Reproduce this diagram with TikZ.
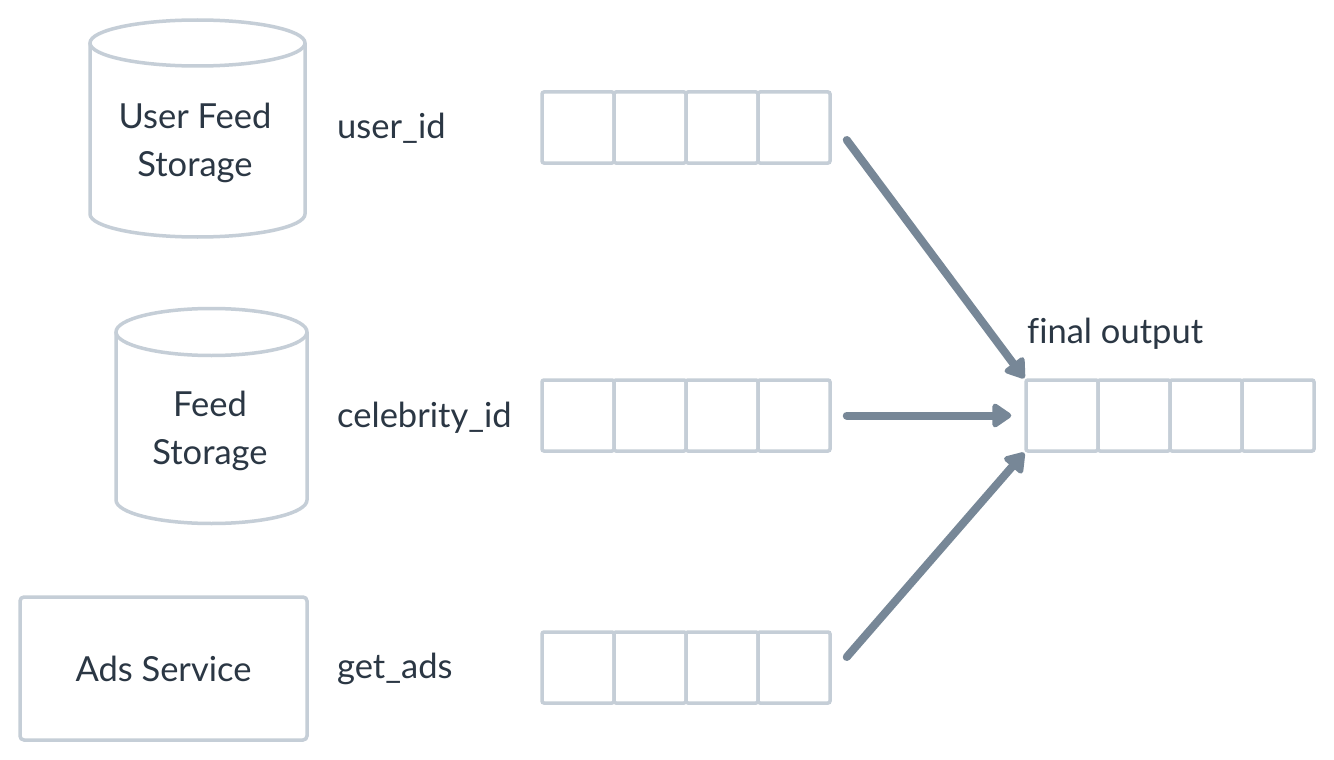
\documentclass[tikz,border=0pt]{standalone}
\usepackage{fontspec}
\setmainfont{Lato}[Ligatures=NoCommon]
\usetikzlibrary{arrows.meta,calc}
\definecolor{boxc}{HTML}{C5CED7}
\definecolor{arrc}{HTML}{778797}
\definecolor{txtc}{HTML}{2B3744}
\begin{document}
\begin{tikzpicture}[x=1pt,y=1pt,
  lbl/.style={text=txtc,font=\fontsize{34.5}{48}\selectfont,inner sep=0pt},
  cell/.style={draw=boxc,line width=3.5pt,minimum width=72pt,minimum height=71pt,inner sep=0pt,rounded corners=2pt},
  db/.style={draw=boxc,line width=3.5pt},
  flow/.style={draw=arrc,line width=8pt,line cap=round,-{Triangle[length=21pt,width=27pt,round]}}]
\useasboundingbox[fill=white] (0,0) rectangle (1334,-760);
% cylinder 1
\draw[db] (90,-43) -- (90,-214) arc[start angle=180,end angle=360,x radius=107.5,y radius=23] -- (305,-43);
\draw[db] (197.5,-43) ellipse[x radius=107.5,y radius=23];
\node[lbl,align=center] (ufsl) at (195,-143) {User Feed\\Storage};
% cylinder 2
\draw[db] (116,-332) -- (116,-500) arc[start angle=180,end angle=360,x radius=95.5,y radius=23.5] -- (307,-332);
\draw[db] (211.5,-332) ellipse[x radius=95.5,y radius=23.5];
\node[lbl,align=center] (fsl) at (210,-431) {Feed\\Storage};
% ads box
\node[draw=boxc,line width=3.5pt,rounded corners=4pt,minimum width=287pt,minimum height=143pt,inner sep=0pt,text=txtc,font=\fontsize{34.5}{48}\selectfont] (ads) at (163.5,-668.5) {Ads Service};
% labels
\node[lbl,anchor=base west] (l1) at (337,-139) {user\_id};
\node[lbl,anchor=base west] (l2) at (337,-427) {celebrity\_id};
\node[lbl,anchor=base west] (l3) at (337,-678) {get\_ads};
\node[lbl,anchor=base west] (l4) at (1027,-343) {final output};
% arrays
\foreach \r/\y in {r1/-127.5,r2/-415.5,r3/-667.5}{
  \foreach \i in {1,...,4}{
    \node[cell] (\r c\i) at ({542+72*\i-36},\y) {};
  }
}
\foreach \i in {1,...,4}{
  \node[cell] (fc\i) at ({1026+72*\i-36},-415.5) {};
}
\coordinate (a1s) at ($(r1c4.east)+(15,-12.5)$);
\coordinate (a2s) at ($(r2c4.east)+(15,0)$);
\coordinate (a2e) at ($(fc1.west)+(-13,0)$);
\coordinate (a3s) at ($(r3c4.east)+(15,10.5)$);
\draw[flow] (a1s) -- (fc1.north west);
\draw[flow] (a2s) -- (a2e);
\draw[flow] (a3s) -- (fc1.south west);
\end{tikzpicture}
\end{document}
